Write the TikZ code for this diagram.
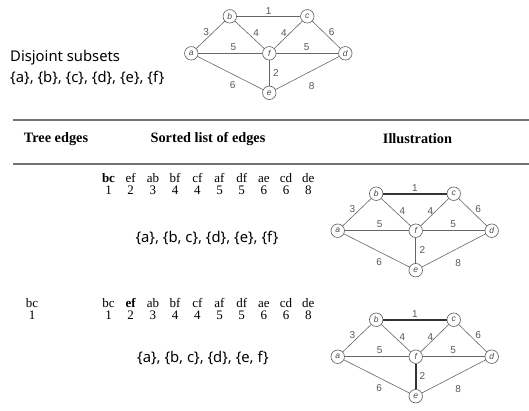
\documentclass[tikz,border=0pt]{standalone}
\usepackage{fontspec}
\setmainfont{Liberation Serif}
\newfontfamily\kfont{Noto Sans}
\newfontfamily\gfont{Liberation Sans}
\usetikzlibrary{backgrounds}
\tikzset{
  x=1pt, y=-1pt,
  vtx/.style={circle, draw=black!65, fill=white, line width=0.6pt, minimum size=13.5pt, inner sep=0pt, font=\gfont\fontsize{8.5}{9}\selectfont\itshape, text=black!70},
  edge/.style={draw=black!60, line width=0.6pt},
  thickedge/.style={draw=black!80, line width=1.6pt},
  lbl/.style={font=\gfont\fontsize{10}{11}\selectfont, text=black!65, inner sep=0pt},
  rule/.style={draw=black!55, line width=1.2pt},
  hdr/.style={font=\fontsize{14.3}{16}\selectfont\bfseries, inner sep=0pt},
  ecol/.style={font=\fontsize{13}{11.5}\selectfont, align=center, inner sep=0pt},
  ktext/.style={font=\kfont\fontsize{14.8}{17}\selectfont, inner sep=0pt},
}
\newcommand\ep[2]{#1\vphantom{\textbf{bdf}}\\#2}
\newcommand\drawgraph[4]{%
\begin{scope}[shift={#1}, name prefix=#2-]
  \node[vtx] (f) at (0,0) {f};
  \node[vtx] (a) at (-78,0) {a};
  \node[vtx] (b) at (-39.5,-37) {b};
  \node[vtx] (c) at (38,-37) {c};
  \node[vtx] (d) at (76,0) {d};
  \node[vtx] (e) at (0,39.5) {e};
  \path[#3] (b) -- node[lbl, shift={(0,-5.5)}] {1} (c);
  \path[edge] (a) -- node[lbl, shift={(-4.5,-3)}] {3} (b);
  \path[edge] (b) -- node[lbl, shift={(6.5,-1.5)}] {4} (f);
  \path[edge] (c) -- node[lbl, shift={(-4.3,-1.5)}] {4} (f);
  \path[edge] (c) -- node[lbl, shift={(5.4,-3)}] {6} (d);
  \path[edge] (a) -- node[lbl, shift={(3,-6.6)}] {5} (f);
  \path[edge] (f) -- node[lbl, shift={(-0.6,-6.6)}] {5} (d);
  \path[#4] (f) -- node[lbl, shift={(6.7,0)}] {2} (e);
  \path[edge] (a) -- node[lbl, shift={(2.4,12)}] {6} (e);
  \path[edge] (e) -- node[lbl, shift={(4.4,13)}] {8} (d);
\end{scope}}
\begin{document}
\begin{tikzpicture}
\useasboundingbox[fill=white] (0,0) rectangle (529,410);

% top graph and disjoint subsets
\drawgraph{(269.3,53.3)}{g1}{edge}{edge}
\node[ktext, anchor=west] (ds) at (10,58) {Disjoint subsets};
\node[ktext, anchor=west] (dsets) at (10,78) {\{a\}, \{b\}, \{c\}, \{d\}, \{e\}, \{f\}};

% table header
\coordinate (r1l) at (13,120); \coordinate (r1r) at (529,120);
\coordinate (r2l) at (13,164); \coordinate (r2r) at (529,164);
\draw[rule] (r1l) -- (r1r);
\draw[rule] (r2l) -- (r2r);
\node[hdr] (h1) at (56,139) {Tree edges};
\node[hdr] (h2) at (208,139) {Sorted list of edges};
\node[hdr] (h3) at (417.5,139) {Illustration};

% row 1
\node[ecol] (r1bc) at (108.5,184) {\ep{\textbf{bc}}{1}};
\node[ecol] (r1ef) at (130.7,184) {\ep{ef}{2}};
\node[ecol] (r1ab) at (152.9,184) {\ep{ab}{3}};
\node[ecol] (r1bf) at (175.1,184) {\ep{bf}{4}};
\node[ecol] (r1cf) at (197.3,184) {\ep{cf}{4}};
\node[ecol] (r1af) at (219.5,184) {\ep{af}{5}};
\node[ecol] (r1df) at (241.7,184) {\ep{df}{5}};
\node[ecol] (r1ae) at (263.9,184) {\ep{ae}{6}};
\node[ecol] (r1cd) at (286.1,184) {\ep{cd}{6}};
\node[ecol] (r1de) at (308.3,184) {\ep{de}{8}};
\node[ktext] (s1) at (207,238) {\{a\}, \{b, c\}, \{d\}, \{e\}, \{f\}};
\drawgraph{(415.7,230.7)}{g2}{thickedge}{edge}

% row 2
\node[ecol] (t2bc) at (32,309) {\ep{bc}{1}};
\node[ecol] (r2bc) at (108.5,309) {\ep{bc}{1}};
\node[ecol] (r2ef) at (130.7,309) {\ep{\textbf{ef}}{2}};
\node[ecol] (r2ab) at (152.9,309) {\ep{ab}{3}};
\node[ecol] (r2bf) at (175.1,309) {\ep{bf}{4}};
\node[ecol] (r2cf) at (197.3,309) {\ep{cf}{4}};
\node[ecol] (r2af) at (219.5,309) {\ep{af}{5}};
\node[ecol] (r2df) at (241.7,309) {\ep{df}{5}};
\node[ecol] (r2ae) at (263.9,309) {\ep{ae}{6}};
\node[ecol] (r2cd) at (286.1,309) {\ep{cd}{6}};
\node[ecol] (r2de) at (308.3,309) {\ep{de}{8}};
\node[ktext] (s2) at (203,358) {\{a\}, \{b, c\}, \{d\}, \{e, f\}};
\drawgraph{(415.7,356.7)}{g3}{thickedge}{thickedge}
\end{tikzpicture}
\end{document}
